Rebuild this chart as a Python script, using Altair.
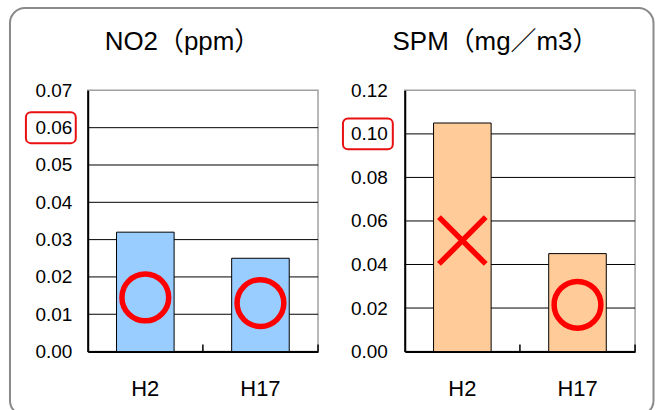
import altair as alt
import pandas as pd

categories = ["H2", "H17"]
no2_values = [0.032, 0.025]
spm_values = [0.105, 0.045]
no2_ticks = [0.00, 0.01, 0.02, 0.03, 0.04, 0.05, 0.06, 0.07]
spm_ticks = [0.00, 0.02, 0.04, 0.06, 0.08, 0.10, 0.12]
no2_marks = ["o", "o"]
spm_marks = ["x", "o"]
no2_mark_y = [0.0145, 0.013]
spm_mark_y = [0.051, 0.0215]
no2_title = "NO2（ppm）"
spm_title = "SPM（mg／m3）"
no2_highlight = 0.06
spm_highlight = 0.10

FONT = "Liberation Sans, Arial, Noto Sans CJK JP, sans-serif"
RED = "#ff0000"
X_PATH = "M-1,-1L1,1M-1,1L1,-1"


def panel(values, ticks, marks, mark_y, color, title, highlight,
          label_pad, title_x, with_frame):
    ymax = ticks[-1]
    bars_df = pd.DataFrame({"cat": categories, "value": values})
    sym_df = pd.DataFrame({"cat": categories, "y": mark_y, "mark": marks})
    grid_df = pd.DataFrame({"g": ticks[1:-1]})
    one = pd.DataFrame({"a": [0]})

    xscale = alt.Scale(domain=categories, paddingInner=0, paddingOuter=0)
    yscale = alt.Scale(domain=[0, ymax], nice=False)
    xaxis = alt.Axis(title=None, labelAngle=0, labelFontSize=22,
                     labelPadding=27, tickSize=0, domainColor="black",
                     domainWidth=2, labelColor="black", labelFont=FONT,
                     grid=False)
    yaxis = alt.Axis(title=None, values=ticks, format=".2f", grid=False,
                     tickSize=0, labelPadding=label_pad, labelFontSize=19,
                     labelColor="black", labelFont=FONT,
                     domainColor="black", domainWidth=2)

    grid = alt.Chart(grid_df).mark_rule(color="black", strokeWidth=1).encode(
        y=alt.Y("g:Q", scale=yscale, axis=yaxis)
    )
    bars = alt.Chart(bars_df).mark_bar(
        color=color, stroke="black", strokeWidth=1,
        width=alt.RelativeBandSize(0.5)
    ).encode(
        x=alt.X("cat:N", sort=categories, scale=xscale, axis=xaxis),
        y=alt.Y("value:Q", scale=yscale, axis=yaxis),
    )
    syms = alt.Chart(sym_df).mark_point(
        filled=False, strokeWidth=5.5, size=2200, color=RED, opacity=1
    ).encode(
        x=alt.X("cat:N", sort=categories, scale=xscale, axis=xaxis),
        y=alt.Y("y:Q", scale=yscale, axis=yaxis),
        shape=alt.Shape("mark:N", scale=alt.Scale(domain=["o", "x"],
                                                    range=["circle", X_PATH]),
                        legend=None),
    )
    tick_mid = alt.Chart(one).mark_rule(color="black", strokeWidth=1.5, y2Offset=-7).encode(
        x=alt.XDatum(categories[-1], type="nominal", bandPosition=0, axis=xaxis),
        y=alt.YDatum(0, axis=yaxis), y2=alt.Y2Datum(0),
    )
    tick_end = alt.Chart(one).mark_rule(color="black", strokeWidth=1.5, y2Offset=-7).encode(
        x=alt.XDatum(categories[-1], type="nominal", bandPosition=1, axis=xaxis),
        y=alt.YDatum(0, axis=yaxis), y2=alt.Y2Datum(0),
    )
    box = alt.Chart(one).mark_rect(
        stroke="#e81010", strokeWidth=2, fillOpacity=0, cornerRadius=5,
        yOffset=-15.5, y2Offset=15.5
    ).encode(
        x=alt.value(-62), x2=alt.value(-12),
        y=alt.YDatum(highlight, axis=yaxis), y2=alt.Y2Datum(highlight),
    )
    ttl = alt.Chart(pd.DataFrame({"t": [title]})).mark_text(
        fontSize=26, font=FONT, color="black", baseline="alphabetic", align="center"
    ).encode(text="t:N", x=alt.value(title_x), y=alt.value(-40))

    layers = [grid, bars, syms, tick_mid, tick_end, box, ttl]
    if with_frame:
        frame = alt.Chart(one).mark_rect(
            stroke="#8a8a8a", strokeWidth=2, fillOpacity=0, cornerRadius=15
        ).encode(
            x=alt.value(-78), x2=alt.value(567.5),
            y=alt.value(-82.5), y2=alt.value(326),
        )
        layers.append(frame)
    return alt.layer(*layers).properties(width=231, height=262)


left = panel(no2_values, no2_ticks, no2_marks, no2_mark_y, "#99ccff",
             no2_title, no2_highlight, 16, 95, True)
right = panel(spm_values, spm_ticks, spm_marks, spm_mark_y, "#ffcc99",
              spm_title, spm_highlight, 17.5, 91, False)

chart = alt.hconcat(left, right, spacing=87, bounds="flush").properties(
    padding={"left": 8, "top": 5, "right": 1, "bottom": 0}
).configure_view(stroke="#a0a0a0", strokeWidth=1.5)

chart.save("out.html", embed_options={"renderer": "svg", "actions": False})
